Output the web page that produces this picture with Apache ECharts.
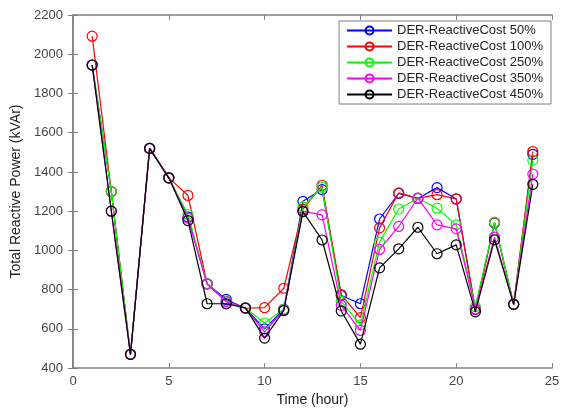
<!DOCTYPE html>
<html>
<head>
<meta charset="utf-8">
<script src="https://cdn.jsdelivr.net/npm/echarts@6/dist/echarts.min.js"></script>
<style>
  html, body { margin: 0; padding: 0; background: #fff; }
  #chart { width: 565px; height: 412px; }
</style>
</head>
<body>
<div id="chart"></div>
<script>
// hours 1..24
const hours = [1, 2, 3, 4, 5, 6, 7, 8, 9, 10, 11, 12, 13, 14, 15, 16, 17, 18, 19, 20, 21, 22, 23, 24];
const seriesNames = ["DER-ReactiveCost 50%", "DER-ReactiveCost 100%", "DER-ReactiveCost 250%", "DER-ReactiveCost 350%", "DER-ReactiveCost 450%"];
const cost50  = [1945, 1300, 470, 1520, 1370, 1170, 830, 750, 705, 600, 700, 1250, 1310, 770, 728, 1160, 1290, 1265, 1320, 1262, 700, 1140, 725, 1490];
const cost100 = [2092, 1300, 470, 1520, 1370, 1280, 830, 740, 705, 708, 807, 1210, 1332, 775, 657, 1115, 1293, 1265, 1284, 1263, 700, 1142, 725, 1504];
const cost250 = [1945, 1300, 470, 1520, 1370, 1183, 830, 740, 705, 630, 700, 1222, 1322, 740, 620, 1042, 1211, 1266, 1215, 1130, 713, 1144, 725, 1460];
const cost350 = [1945, 1200, 470, 1520, 1370, 1165, 828, 738, 705, 585, 696, 1200, 1181, 720, 592, 1005, 1122, 1266, 1130, 1110, 700, 1068, 725, 1389];
const cost450 = [1945, 1200, 470, 1520, 1370, 1152, 728, 728, 707, 553, 693, 1198, 1053, 691, 522, 911, 1008, 1118, 983, 1028, 687, 1054, 725, 1337];
const colors = ["#0000ff", "#ff0000", "#00ff00", "#ff00ff", "#000000"];
const allData = [cost50, cost100, cost250, cost350, cost450];

const chart = echarts.init(document.getElementById("chart"));
const axisGrey = "#808080";
const font = "Liberation Sans, Arial";
const labelFont = { color: "#444", fontSize: 13, fontFamily: font };

const option = {
  backgroundColor: "#fff",
  animation: false,
  grid: { left: 73, right: 13, top: 15, bottom: 42 },
  legend: {
    orient: "vertical",
    right: 14,
    top: 21,
    data: seriesNames,
    itemWidth: 45,
    itemHeight: 10,
    itemGap: 1,
    padding: [2, 8, 2, 7],
    borderColor: "#808080",
    borderWidth: 1,
    backgroundColor: "#fff",
    textStyle: { color: "#222", fontSize: 13, fontFamily: font, lineHeight: 15 }
  },
  xAxis: [
    {
      type: "value", min: 0, max: 25, interval: 5,
      name: "Time (hour)", nameLocation: "middle", nameGap: 20,
      nameTextStyle: { color: "#222", fontSize: 14, fontFamily: font },
      axisLine: { lineStyle: { color: axisGrey, width: 1.5 } },
      axisTick: { inside: true, length: 5, lineStyle: { color: axisGrey } },
      axisLabel: Object.assign({ margin: 7 }, labelFont),
      splitLine: { show: false }
    },
    {
      type: "value", min: 0, max: 25, interval: 5, position: "top",
      axisLine: { show: true, lineStyle: { color: axisGrey, width: 1.5 } },
      axisTick: { inside: true, length: 5, lineStyle: { color: axisGrey } },
      axisLabel: { show: false },
      splitLine: { show: false }
    }
  ],
  yAxis: [
    {
      type: "value", min: 400, max: 2200, interval: 200,
      name: "Total Reactive Power (kVAr)", nameLocation: "middle", nameGap: 43,
      nameTextStyle: { color: "#222", fontSize: 14, fontFamily: font },
      axisLine: { show: true, lineStyle: { color: axisGrey, width: 1.5 } },
      axisTick: { show: true, inside: true, length: 5, lineStyle: { color: axisGrey } },
      axisLabel: Object.assign({ margin: 10, formatter: (v) => String(v) }, labelFont),
      splitLine: { show: false }
    },
    {
      type: "value", min: 400, max: 2200, interval: 200, position: "right",
      axisLine: { show: true, lineStyle: { color: axisGrey, width: 1.5 } },
      axisTick: { show: true, inside: true, length: 5, lineStyle: { color: axisGrey } },
      axisLabel: { show: false },
      splitLine: { show: false }
    }
  ],
  series: seriesNames.map((name, i) => ({
    name: name,
    type: "line",
    xAxisIndex: 0,
    yAxisIndex: 0,
    data: hours.map((h, j) => [h, allData[i][j]]),
    symbol: "circle",
    symbolSize: 10,
    color: colors[i],
    lineStyle: { color: colors[i], width: 1.2 },
    itemStyle: { color: "transparent", borderColor: colors[i], borderWidth: 1.2 },
    emphasis: { disabled: true },
    z: 2 + i
  }))
};

chart.setOption(option);
</script>
</body>
</html>
